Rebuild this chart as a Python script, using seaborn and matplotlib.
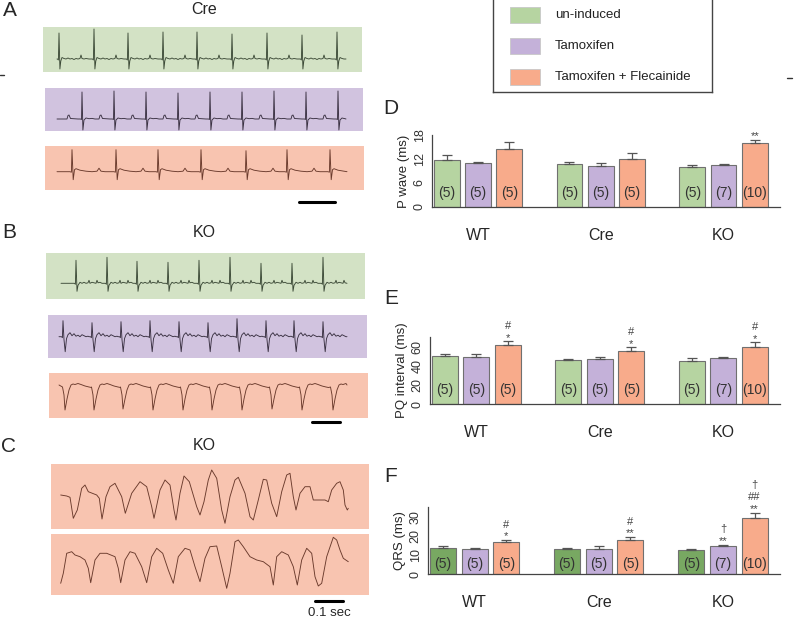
import numpy as np
import pandas as pd
import matplotlib
matplotlib.use("Agg")
import matplotlib.pyplot as plt
from matplotlib.lines import Line2D
from matplotlib.patches import Rectangle
import seaborn as sns

sns.set_theme(style="white")
plt.rcParams["font.family"] = ["Liberation Sans", "DejaVu Sans"]

W, H = 800, 622

# ---------------- bar chart data ----------------
groups = ["WT", "Cre", "KO"]
conditions = ["un-induced", "Tamoxifen", "Tamoxifen + Flecainide"]
n_labels = ["(5)", "(5)", "(5)", "(5)", "(5)", "(5)", "(5)", "(7)", "(10)"]

p_wave = [11.7, 10.9, 14.4, 10.8, 10.3, 12.1, 10.1, 10.4, 15.9]
p_wave_err = [1.4, 0.4, 1.8, 0.4, 0.6, 1.3, 0.5, 0.4, 0.9]
pq = [50.2, 49.1, 61.3, 45.7, 47.1, 55.5, 45.0, 47.8, 59.6]
pq_err = [2.5, 2.9, 4.3, 1.4, 2.4, 3.8, 2.8, 1.0, 4.9]
qrs = [13.7, 13.0, 16.8, 13.2, 12.8, 17.9, 12.3, 14.7, 29.5]
qrs_err = [0.7, 0.7, 0.9, 0.5, 1.8, 1.4, 0.5, 0.6, 2.6]

# significance marks: bar index -> lines from bottom to top
p_marks = {8: ["**"]}
pq_marks = {2: ["*", "#"], 5: ["*", "#"], 8: ["*", "#"]}
qrs_marks = {2: ["*", "#"], 5: ["**", "#"], 7: ["**", "\u2020"], 8: ["**", "##", "\u2020"]}

pal_light = ["#b6d4a1", "#c4b1d9", "#f8ab8b"]
pal_f = ["#78a862", "#c2aed9", "#f8ab8b"]

# ---------------- ECG traces (x in px along strip, y in px) ----------------
# normal beats: R-peak times and heights
a_green_r = [59, 94, 128, 163, 197, 232, 267, 302, 337]
a_green_h = [26, 30, 26, 27, 27, 25, 26, 24, 27]
a_purple_r = [82, 114, 146, 178, 210, 242, 274, 306, 338]
a_purple_h = [27, 28, 27, 26, 27, 27, 28, 27, 28]
a_orange_r = [72, 116, 158, 201, 246, 287, 330]
a_orange_h = [22, 22, 22, 22, 21, 22, 22]
b_green_r = [76, 107, 137, 168, 199, 230, 261, 292, 323]
b_green_h = [23, 26, 22, 21, 23, 26, 20, 20, 26]
b_purple_r = [63, 92, 121, 150, 179, 208, 237, 266, 294, 323]
b_purple_h = [16, 14, 15, 16, 15, 14, 18, 16, 16, 15]
b_orange_r = [65, 94, 123, 153, 183, 212, 242, 272, 302, 333]
b_orange_h = [-25, -25, -24, -25, -25, -25, -25, -24, -25, -25]

# beat templates (dt, dy); index of the R/QS point
tmpl_a_green = ([-1.5, -0.6, 0, 0.9, 1.8, 3, 5, 7, 9, 11, 13, 15, 17, 19, 21, 22, 23, 25, 27, 30],
                [0, -1, 0, -10, -2, 1.5, 0.5, 0, 1, 0, 0.5, -0.5, 0.5, 0, 0.5, 4, 0.5, 0, 0.5, 0], 2)
tmpl_a_purple = ([-15, -14, -13, -11.5, -4, -1.5, -0.5, 0, 0.9, 2, 4, 7, 10, 13],
                 [0, 3.5, 4, 0.5, 0, 0, -0.5, 0, -11, -1, 1, 0.3, 0.6, 0], 7)
tmpl_a_orange = ([-2, -0.6, 0, 1.2, 2.5, 4, 8, 14, 20, 25, 27, 29, 33, 38],
                 [0, -0.5, 0, -8, 2, 3, 1.5, 0.5, 0, 0.5, 3.5, 0.5, 0, 0], 2)
tmpl_b_green = ([-1.5, -0.6, 0, 1, 2, 4, 6, 8, 10, 12, 13, 14, 16, 18, 20, 21, 22, 24, 26, 28],
                [0, -1, 0, -8, -2, 1, 0, 1, 0, 0.5, 3, 0, 1, 0.5, 0, 3, 0.5, 1, 0, 0], 2)
tmpl_b_purple = ([-1.5, -0.6, 0, 1, 2.2, 3.5, 5, 7, 9, 11, 13, 15, 17, 19, 21, 23, 25, 26],
                 [0, -1, 0, -3, -15, -2, 2, 4, 1, 3, 0.5, 1.5, 0, 2, 1, 0, 0.5, 0], 2)
tmpl_b_orange = ([-2.5, -1, 0, 2, 4, 6, 8, 10, 13, 16, 20, 24, 26.5],
                 [-2, -10, 0, -14, -5, 0, 1, 0.5, 1.5, 0.5, -1, -2, -2.5], 2)

# panel C traces read point by point
c1_x = [60.7, 66.7, 70, 73.3, 77.3, 81.7, 85, 88.3, 96.7, 99.3, 102, 106, 110, 115, 121.7, 125.3,
        131.7, 140, 146.7, 151.7, 154, 160, 165, 170, 174, 176, 180, 184, 189.3, 196.7, 200, 204,
        208.3, 211.7, 216.7, 221.7, 225, 230, 235, 238.3, 245, 250, 253.3, 258.3, 263.3, 266.7,
        271.7, 276.7, 281.7, 286.7, 290, 293.3, 296, 300, 305, 310, 313.3, 325, 328.3, 331.7,
        336.7, 340, 343.3, 345, 347.3, 348.3]
c1_y = [495, 496, 497.3, 518.3, 510, 488.3, 485, 491.7, 495, 498.3, 519, 496.7, 486.7, 483.3,
        496.7, 513.3, 493.3, 481.7, 486.7, 506.7, 518.3, 490, 480, 485, 510, 520, 493.3, 476,
        481.7, 506.7, 515, 501.7, 480, 470, 478.3, 510, 523.3, 496.7, 480, 477.3, 493.3, 516.7,
        520, 500, 479.3, 480, 503.3, 516.7, 491.7, 475, 473.3, 496.7, 510, 493.3, 486.7, 486.7,
        500, 500, 501.7, 490, 483.3, 481.7, 490, 505, 510, 508.3]
c2_x = [60.7, 63.3, 66.7, 71.7, 75, 80, 85, 88.3, 90.7, 95, 100, 106.7, 115, 118.3, 120.7, 125,
        130, 135, 141.7, 146.7, 151.7, 156.7, 162.7, 168.3, 173.3, 178.3, 185, 190, 195, 200,
        205, 210, 216.7, 221.7, 226.7, 230, 235, 238.3, 243.3, 250, 256.7, 263.3, 270, 273.3,
        276.7, 281.7, 288.3, 293.3, 297.3, 301.7, 306.7, 311.7, 315, 318.3, 321.7, 326.7, 333.3,
        336.7, 340, 343.3, 348.3]
c2_y = [583.3, 573.3, 553.3, 551.7, 555, 556.7, 560, 568.3, 582.7, 560, 553.3, 553.3, 556.7,
        568.3, 582.7, 560, 551.7, 553.3, 566.7, 582.7, 556.7, 548.3, 553.3, 570, 583.3, 556.7,
        548.3, 550, 566.7, 581.7, 558.3, 546.7, 546, 566.7, 588.3, 573.3, 541.7, 540, 546.7,
        556.7, 560, 561.7, 566.7, 585, 556.7, 551.7, 555, 566.7, 585, 560, 548.3, 553.3, 576.7,
        586, 583.3, 556.7, 537.3, 540, 550, 558.3, 561.7]

strip_green = "#d3e2c5"
strip_purple = "#d1c3df"
strip_orange = "#f8c4b0"
ink_green = "#3c4a37"
ink_purple = "#3a3142"
ink_orange = "#6a3a2c"


def fx(x):
    return x / W


def fy(y):
    return 1 - y / H


def build_beats(start, end, base, beats, heights, tmpl):
    dts, dys, ri = tmpl
    xs, ys = [start], [base]
    for t, h in zip(beats, heights):
        for k, (dt, dy) in enumerate(zip(dts, dys)):
            v = h if k == ri else dy
            if start < t + dt < end:
                xs.append(t + dt)
                ys.append(base - v)
    xs.append(end)
    ys.append(base)
    return xs, ys


fig = plt.figure(figsize=(8, 6.22), dpi=100)


def strip(box, color, xs, ys, ink):
    l, t, r, b = box
    ax = fig.add_axes([fx(l), fy(b), (r - l) / W, (b - t) / H])
    ax.set_facecolor(color)
    sns.lineplot(x=xs, y=ys, sort=False, estimator=None, color=ink, lw=0.65, ax=ax)
    ax.set_xlim(l, r)
    ax.set_ylim(b, t)
    ax.set_xticks([])
    ax.set_yticks([])
    for s in ax.spines.values():
        s.set_visible(False)
    return ax


strip((43, 27, 362, 72), strip_green,
      *build_beats(57, 346, 59, a_green_r, a_green_h, tmpl_a_green), ink_green)
strip((45, 88, 363, 131), strip_purple,
      *build_beats(57, 346, 119, a_purple_r, a_purple_h, tmpl_a_purple), ink_purple)
strip((45, 146, 364, 190), strip_orange,
      *build_beats(57, 347, 171.7, a_orange_r, a_orange_h, tmpl_a_orange), ink_orange)
strip((46, 253, 365, 299), strip_green,
      *build_beats(61, 347, 283.3, b_green_r, b_green_h, tmpl_b_green), ink_green)
strip((48, 315, 367, 358), strip_purple,
      *build_beats(59, 347, 336.7, b_purple_r, b_purple_h, tmpl_b_purple), ink_purple)
strip((49, 373, 368, 418), strip_orange,
      *build_beats(59, 347, 385, b_orange_r, b_orange_h, tmpl_b_orange), ink_orange)
strip((51, 464, 369, 529), strip_orange, c1_x, c1_y, ink_orange)
strip((51, 534, 369, 595), strip_orange, c2_x, c2_y, ink_orange)

# panel letters and titles
for letter, (x, y) in zip("ABCDEF", [(10, 11), (9, 233), (9, 446), (391, 108), (391, 298), (391, 476)]):
    fig.text(fx(x), fy(y), letter, fontsize=15, ha="center", va="center")
for title, y in zip(["Cre", "KO", "KO"], [10, 232, 445]):
    fig.text(fx(204), fy(y), title, fontsize=11.5, ha="center", va="center")

# scale bars
for x0, x1, y in [(299, 335, 202), (312, 340, 422), (315, 343, 601)]:
    fig.add_artist(Line2D([fx(x0), fx(x1)], [fy(y), fy(y)], color="black", lw=2.2))
fig.text(fx(329), fy(613), "0.1 sec", fontsize=9.5, ha="center", va="center")

# small crop marks at the edges
fig.add_artist(Line2D([fx(0), fx(4)], [fy(75), fy(75)], color="#333333", lw=1))
fig.add_artist(Line2D([fx(787), fx(792)], [fy(78), fy(78)], color="#333333", lw=1))


def bar_panel(box, values, errs, marks, ylim, ticks, ylabel, palette, n_off):
    l, t, r, b = box
    ax = fig.add_axes([fx(l), fy(b), (r - l) / W, (b - t) / H])
    df = pd.DataFrame({"group": np.repeat(groups, 3),
                       "cond": conditions * 3,
                       "value": values})
    sns.barplot(data=df, x="group", y="value", hue="cond", order=groups,
                hue_order=conditions, palette=palette, saturation=1, width=0.765, gap=0.18,
                errorbar=None, edgecolor="#707070", linewidth=0.8, legend=False, ax=ax)
    bars = sorted(ax.patches, key=lambda p: p.get_x())
    for i, p in enumerate(bars):
        xc = p.get_x() + p.get_width() / 2
        top = p.get_height()
        ax.errorbar(xc, top, yerr=[[0], [errs[i]]], fmt="none", ecolor="#555555",
                    elinewidth=0.9, capsize=3.5, capthick=0.9)
        ax.annotate(n_labels[i], (xc, 0), xytext=(0, n_off), textcoords="offset points",
                    ha="center", va="center", fontsize=10, color="#333333")
        for k, s in enumerate(marks.get(i, [])):
            ax.annotate(s, (xc, top + errs[i]), xytext=(0, -1 + 8.5 * k),
                        textcoords="offset points", ha="center", va="bottom",
                        fontsize=8, color="#444444")
    ax.set_xlim(-0.375, 2.46)
    ax.set_ylim(*ylim)
    ax.set_yticks(ticks)
    ax.set_yticklabels([str(v) for v in ticks], rotation=90, va="center", fontsize=9)
    ax.tick_params(axis="y", direction="out", length=3, width=0.8, pad=1.5, colors="#333333")
    ax.tick_params(axis="x", length=0, pad=15, labelsize=11.5)
    ax.set_xlabel("")
    ax.set_ylabel(ylabel, fontsize=9.5, labelpad=3)
    for s in ["top", "right"]:
        ax.spines[s].set_visible(False)
    for s in ["left", "bottom"]:
        ax.spines[s].set_color("#444444")
        ax.spines[s].set_linewidth(0.9)
    return ax


bar_panel((432, 135, 780, 207), p_wave, p_wave_err, p_marks, (0, 18), [0, 6, 12, 18],
          "P wave (ms)", pal_light, 10)
bar_panel((430, 337, 780, 404), pq, pq_err, pq_marks, (0, 70), [0, 20, 40, 60],
          "PQ interval (ms)", pal_light, 10)
bar_panel((428, 507, 780, 574), qrs, qrs_err, qrs_marks, (0, 35), [0, 10, 20, 30],
          "QRS (ms)", pal_f, 7.5)

# legend box (top edge runs off the figure, as in the source)
leg = fig.add_axes([fx(493), fy(92), (712 - 493) / W, 100 / H])
leg.set_xlim(493, 712)
leg.set_ylim(92, -8)
leg.set_xticks([])
leg.set_yticks([])
for s in leg.spines.values():
    s.set_color("#444444")
    s.set_linewidth(1)
for c, label, y in zip(pal_light, conditions, [15, 46, 77]):
    leg.add_patch(Rectangle((510, y - 8), 30, 16, facecolor=c, edgecolor="#c8c8c8", lw=0.6))
    leg.text(555, y, label, fontsize=9.5, va="center", ha="left", color="#222222")

fig.savefig("out.png", dpi=100, facecolor="white")
